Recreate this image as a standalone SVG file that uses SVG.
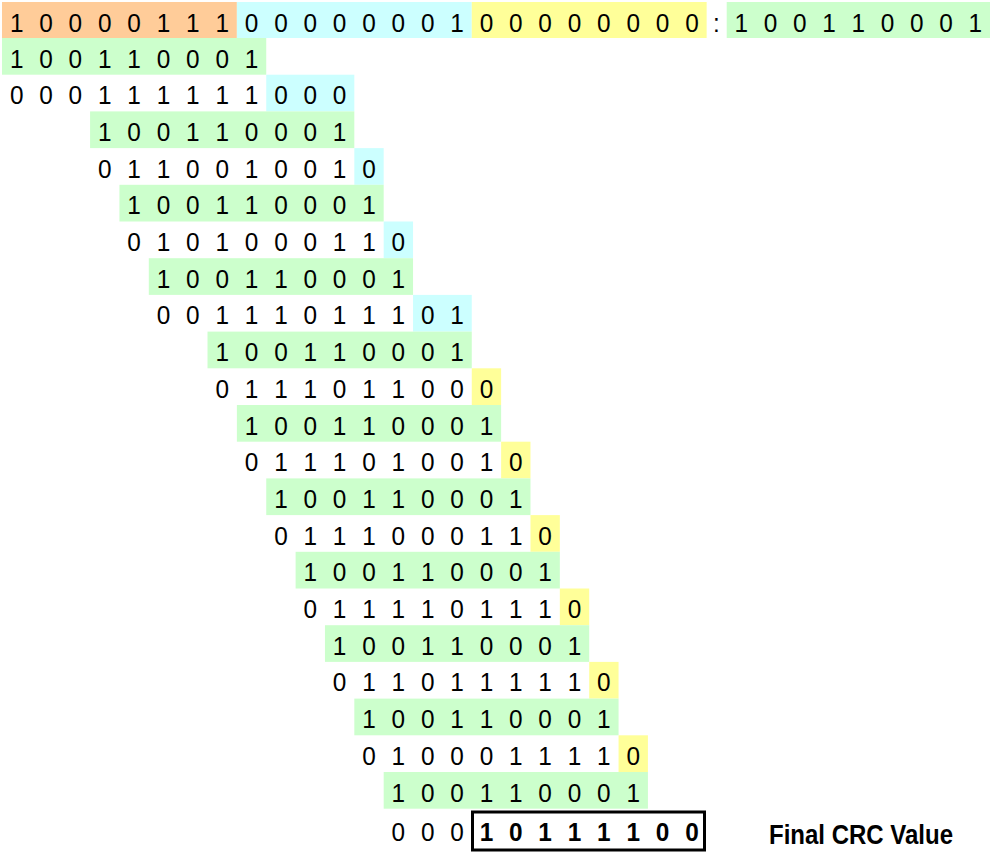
<svg xmlns="http://www.w3.org/2000/svg" width="990" height="852" viewBox="0 0 990 852">
<style>
.d{font-family:"Liberation Sans",Arial,sans-serif;font-size:26.5px;text-anchor:middle;fill:#000}
.b{font-weight:bold}
.or{fill:#FFCC99}.cy{fill:#CCFFFF}.ye{fill:#FFFF99}.gr{fill:#CCFFCC}
.lbl{font-family:"Liberation Sans",Arial,sans-serif;font-size:27px;font-weight:bold;fill:#000}
</style>
<rect width="990" height="852" fill="#fff"/>
<g id="row-0">
<rect class="or" x="2" y="2" width="234.88" height="36"/>
<rect class="cy" x="236.88" y="2" width="234.88" height="36"/>
<rect class="ye" x="471.76" y="2" width="234.88" height="36"/>
<rect class="gr" x="726.7" y="2" width="263.3" height="36"/>
<text class="d" transform="scale(0.92 1)" x="18.13 50.04 81.96 113.87 145.78 177.7 209.61 241.52" y="31.6">10000111</text>
<text class="d" transform="scale(0.92 1)" x="273.43 305.35 337.26 369.17 401.09 433 464.91 496.83" y="31.6">00000001</text>
<text class="d" transform="scale(0.92 1)" x="528.74 560.65 592.56 624.48 656.39 688.3 720.22 752.13" y="31.6">00000000</text>
<text class="d" transform="scale(0.92 1)" x="778.8" y="31.6">:</text>
<text class="d" transform="scale(0.92 1)" x="805.76 837.61 869.35 901.2 933.04 964.78 996.63 1028.37 1060.22" y="31.6">100110001</text>
</g>
<g id="row-1">
<rect class="gr" x="2" y="38" width="264.24" height="36.7"/>
<text class="d" transform="scale(0.92 1)" x="18.13 50.04 81.96 113.87 145.78 177.7 209.61 241.52 273.43" y="67.6">100110001</text>
</g>
<g id="row-2">
<rect class="cy" x="266.24" y="74.7" width="88.08" height="36.7"/>
<text class="d" transform="scale(0.92 1)" x="18.13 50.04 81.96 113.87 145.78 177.7 209.61 241.52 273.43 305.35 337.26 369.17" y="104.3">000111111000</text>
</g>
<g id="row-3">
<rect class="gr" x="90.08" y="111.4" width="264.24" height="36.7"/>
<text class="d" transform="scale(0.92 1)" x="113.87 145.78 177.7 209.61 241.52 273.43 305.35 337.26 369.17" y="141">100110001</text>
</g>
<g id="row-4">
<rect class="cy" x="354.32" y="148.1" width="29.36" height="36.7"/>
<text class="d" transform="scale(0.92 1)" x="113.87 145.78 177.7 209.61 241.52 273.43 305.35 337.26 369.17 401.09" y="177.7">0110010010</text>
</g>
<g id="row-5">
<rect class="gr" x="119.44" y="184.8" width="264.24" height="36.7"/>
<text class="d" transform="scale(0.92 1)" x="145.78 177.7 209.61 241.52 273.43 305.35 337.26 369.17 401.09" y="214.4">100110001</text>
</g>
<g id="row-6">
<rect class="cy" x="383.68" y="221.5" width="29.36" height="36.7"/>
<text class="d" transform="scale(0.92 1)" x="145.78 177.7 209.61 241.52 273.43 305.35 337.26 369.17 401.09 433" y="251.1">0101000110</text>
</g>
<g id="row-7">
<rect class="gr" x="148.8" y="258.2" width="264.24" height="36.7"/>
<text class="d" transform="scale(0.92 1)" x="177.7 209.61 241.52 273.43 305.35 337.26 369.17 401.09 433" y="287.8">100110001</text>
</g>
<g id="row-8">
<rect class="cy" x="413.04" y="294.9" width="58.72" height="36.7"/>
<text class="d" transform="scale(0.92 1)" x="177.7 209.61 241.52 273.43 305.35 337.26 369.17 401.09 433 464.91 496.83" y="324.5">00111011101</text>
</g>
<g id="row-9">
<rect class="gr" x="207.52" y="331.6" width="264.24" height="36.7"/>
<text class="d" transform="scale(0.92 1)" x="241.52 273.43 305.35 337.26 369.17 401.09 433 464.91 496.83" y="361.2">100110001</text>
</g>
<g id="row-10">
<rect class="ye" x="471.76" y="368.3" width="29.36" height="36.7"/>
<text class="d" transform="scale(0.92 1)" x="241.52 273.43 305.35 337.26 369.17 401.09 433 464.91 496.83 528.74" y="397.9">0111011000</text>
</g>
<g id="row-11">
<rect class="gr" x="236.88" y="405" width="264.24" height="36.7"/>
<text class="d" transform="scale(0.92 1)" x="273.43 305.35 337.26 369.17 401.09 433 464.91 496.83 528.74" y="434.6">100110001</text>
</g>
<g id="row-12">
<rect class="ye" x="501.12" y="441.7" width="29.36" height="36.7"/>
<text class="d" transform="scale(0.92 1)" x="273.43 305.35 337.26 369.17 401.09 433 464.91 496.83 528.74 560.65" y="471.3">0111010010</text>
</g>
<g id="row-13">
<rect class="gr" x="266.24" y="478.4" width="264.24" height="36.7"/>
<text class="d" transform="scale(0.92 1)" x="305.35 337.26 369.17 401.09 433 464.91 496.83 528.74 560.65" y="508">100110001</text>
</g>
<g id="row-14">
<rect class="ye" x="530.48" y="515.1" width="29.36" height="36.7"/>
<text class="d" transform="scale(0.92 1)" x="305.35 337.26 369.17 401.09 433 464.91 496.83 528.74 560.65 592.56" y="544.7">0111000110</text>
</g>
<g id="row-15">
<rect class="gr" x="295.6" y="551.8" width="264.24" height="36.7"/>
<text class="d" transform="scale(0.92 1)" x="337.26 369.17 401.09 433 464.91 496.83 528.74 560.65 592.56" y="581.4">100110001</text>
</g>
<g id="row-16">
<rect class="ye" x="559.84" y="588.5" width="29.36" height="36.7"/>
<text class="d" transform="scale(0.92 1)" x="337.26 369.17 401.09 433 464.91 496.83 528.74 560.65 592.56 624.48" y="618.1">0111101110</text>
</g>
<g id="row-17">
<rect class="gr" x="324.96" y="625.2" width="264.24" height="36.7"/>
<text class="d" transform="scale(0.92 1)" x="369.17 401.09 433 464.91 496.83 528.74 560.65 592.56 624.48" y="654.8">100110001</text>
</g>
<g id="row-18">
<rect class="ye" x="589.2" y="661.9" width="29.36" height="36.7"/>
<text class="d" transform="scale(0.92 1)" x="369.17 401.09 433 464.91 496.83 528.74 560.65 592.56 624.48 656.39" y="691.5">0110111110</text>
</g>
<g id="row-19">
<rect class="gr" x="354.32" y="698.6" width="264.24" height="36.7"/>
<text class="d" transform="scale(0.92 1)" x="401.09 433 464.91 496.83 528.74 560.65 592.56 624.48 656.39" y="728.2">100110001</text>
</g>
<g id="row-20">
<rect class="ye" x="618.56" y="735.3" width="29.36" height="36.7"/>
<text class="d" transform="scale(0.92 1)" x="401.09 433 464.91 496.83 528.74 560.65 592.56 624.48 656.39 688.3" y="764.9">0100011110</text>
</g>
<g id="row-21">
<rect class="gr" x="383.68" y="772" width="264.24" height="36.7"/>
<text class="d" transform="scale(0.92 1)" x="433 464.91 496.83 528.74 560.65 592.56 624.48 656.39 688.3" y="801.6">100110001</text>
</g>
<g id="row-22">
<text class="d" transform="scale(0.92 1)" x="433 464.91 496.83" y="841">000</text>
<rect x="472.5" y="812" width="232" height="38" fill="none" stroke="#000" stroke-width="3"/>
<text class="d b" transform="scale(0.92 1)" x="528.74 560.65 592.56 624.48 656.39 688.3 720.22 752.13" y="841">10111100</text>
</g>
<g id="label">
<text class="lbl" x="769" y="844" textLength="184" lengthAdjust="spacingAndGlyphs">Final CRC Value</text>
</g>
<g id="connectors"/>
</svg>
